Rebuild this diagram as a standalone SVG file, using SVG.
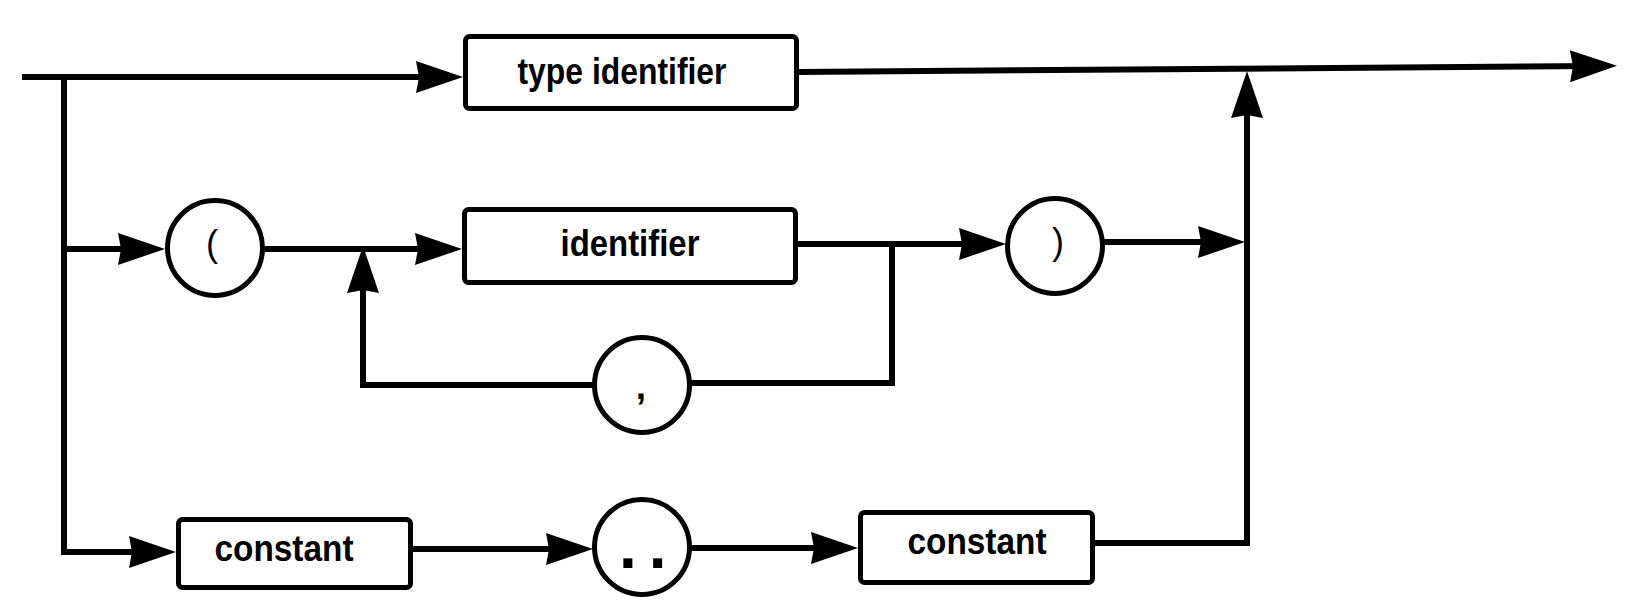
<svg xmlns="http://www.w3.org/2000/svg" width="1630" height="612" viewBox="0 0 1630 612">
  <style>
    .line { fill: none; stroke: #000; stroke-width: 6; stroke-linejoin: miter; stroke-linecap: butt; }
    .box { fill: #fff; stroke: #000; stroke-width: 5; }
    .term { fill: #fff; stroke: #000; stroke-width: 5; }
    .lbl { font-family: "Liberation Sans", Arial, sans-serif; font-weight: bold; font-size: 37px; fill: #000; text-anchor: middle; }
    .sym { font-family: "Liberation Sans", Arial, sans-serif; font-size: 36px; fill: #000; text-anchor: middle; }
  </style>
  <defs>
    <marker id="arrow" markerUnits="userSpaceOnUse" viewBox="-30 -17 52 34" refX="0" refY="0" markerWidth="52" markerHeight="34" orient="auto" overflow="visible">
      <path d="M20,0 L-27,-16 L-24,0 L-27,16 Z" fill="#000"/>
    </marker>
  </defs>
  <rect width="1630" height="612" fill="#fff"/>

  <g id="connectors">
    <path class="line" d="M22,77 H443" marker-end="url(#arrow)"/>
    <path class="line" d="M64,74 V552 H156" marker-end="url(#arrow)"/>
    <path class="line" d="M64,249 H145" marker-end="url(#arrow)"/>
    <path class="line" d="M265,249 H442" marker-end="url(#arrow)"/>
    <path class="line" d="M798,244 H986" marker-end="url(#arrow)"/>
    <path class="line" d="M892,244 V383 H691"/>
    <path class="line" d="M593,385 H363 V266" marker-end="url(#arrow)"/>
    <path class="line" d="M1104,242 H1225" marker-end="url(#arrow)"/>
    <path class="line" d="M413,549 H573" marker-end="url(#arrow)"/>
    <path class="line" d="M691,548 H838" marker-end="url(#arrow)"/>
    <path class="line" d="M1095,543 H1247 V91" marker-end="url(#arrow)"/>
    <path class="line" d="M799,72 L1597,66" marker-end="url(#arrow)"/>
  </g>

  <g id="type-identifier">
    <rect class="box" x="465.5" y="36.5" width="331" height="72" rx="4"/>
    <text class="lbl" x="622" y="84" textLength="209" lengthAdjust="spacingAndGlyphs">type identifier</text>
  </g>

  <g id="open-paren">
    <circle class="term" cx="215" cy="248" r="47.5"/>
    <text class="sym" x="212" y="256">(</text>
  </g>

  <g id="identifier">
    <rect class="box" x="464.5" y="209.5" width="331" height="73" rx="4"/>
    <text class="lbl" x="630" y="256" textLength="139" lengthAdjust="spacingAndGlyphs">identifier</text>
  </g>

  <g id="comma">
    <circle class="term" cx="642" cy="385" r="47.5"/>
    <text class="lbl" x="641" y="399" font-size="40">,</text>
  </g>

  <g id="close-paren">
    <circle class="term" cx="1055" cy="246" r="47.5"/>
    <text class="sym" x="1058" y="254">)</text>
  </g>

  <g id="constant-1">
    <rect class="box" x="178.5" y="519.5" width="232" height="68" rx="4"/>
    <text class="lbl" x="284" y="561" textLength="139" lengthAdjust="spacingAndGlyphs">constant</text>
  </g>

  <g id="range-dots">
    <circle class="term" cx="642" cy="547" r="47.5"/>
    <text x="619" y="567.5" font-family="Liberation Sans, Arial, sans-serif" font-weight="bold" font-size="64" letter-spacing="12">..</text>
  </g>

  <g id="constant-2">
    <rect class="box" x="860.5" y="512.5" width="232" height="70" rx="4"/>
    <text class="lbl" x="977" y="554" textLength="139" lengthAdjust="spacingAndGlyphs">constant</text>
  </g>
</svg>
